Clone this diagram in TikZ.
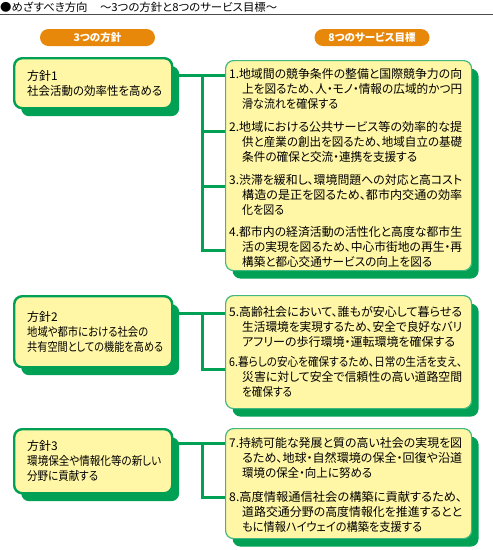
\documentclass[tikz,border=0pt]{standalone}
\usepackage{graphicx}
\usepackage{fontspec}
\setmainfont{Noto Sans CJK JP}[CharacterWidth=AlternateProportional]
\usetikzlibrary{positioning,shadows}

\definecolor{routegreen}{HTML}{00A055}
\definecolor{boxyellow}{HTML}{FFF7A6}
\definecolor{tagorange}{HTML}{E8880A}

% one line of text set to a given width
\newcommand{\fitline}[2]{\resizebox{#1}{\height}{#2}}
% a numbered goal: number, line 1, line 2, line 3, width of line 3
\newcommand{\goallines}[5]{\fitline{233pt}{#1.#2}\\\hspace*{13pt}\fitline{220pt}{#3}\\\hspace*{13pt}\fitline{#5}{#4}}

\tikzset{
  panel/.style={fill=boxyellow, rounded corners=8pt, anchor=north west,
    drop shadow={fill=routegreen, opacity=1, shadow xshift=7pt, shadow yshift=-8pt}},
  policy/.style={panel, draw=routegreen, line width=2.4pt, minimum width=158pt,
    text width=132pt, inner xsep=13pt, align=left, font=\fontsize{12}{15}\selectfont},
  goalbox/.style={panel, draw=routegreen!75, line width=1.2pt, minimum width=246pt},
  goal/.style={anchor=north west, inner sep=0pt, align=left, font=\fontsize{12}{14.7}\selectfont},
  tag/.style={fill=tagorange, text=white, rounded corners=8.5pt, minimum width=115pt,
    minimum height=17pt, inner sep=0pt, font=\fontsize{10.5}{12}\selectfont\bfseries},
  bus/.style={draw=routegreen, line width=3pt}
}

\begin{document}
\begin{tikzpicture}[x=1pt,y=-1pt]
\useasboundingbox (0,0) rectangle (493,550);

% heading
\node[anchor=west, inner sep=0pt, font=\fontsize{11}{12}\selectfont] (title) at (0,7)
  {\fitline{277pt}{●めざすべき方向\hspace{12pt}～3つの方針と8つのサービス目標～}};
\draw[gray!60!black, line width=1pt] (0,14.5) -- (493,14.5);

\node[tag] (hp) at (97.5,37.5) {3つの方針};
\node[tag] (hg) at (372,37.5) {8つのサービス目標};

% policies
\node[policy, minimum height=50pt] (p1) at (13,57)
  {方針1\\\fitline{135pt}{社会活動の効率性を高める}};
\node[policy, minimum height=71pt] (p2) at (13,295)
  {方針2\\\fitline{121pt}{地域や都市における社会の}\\\fitline{136pt}{共有空間としての機能を高める}};
\node[policy, minimum height=64pt] (p3) at (13,428)
  {方針3\\\fitline{134pt}{環境保全や情報化等の新しい}\\\fitline{71pt}{分野に貢献する}};

% goal panels
\node[goalbox, minimum height=210pt] (gb1) at (225,60) {};
\node[goalbox, minimum height=113pt] (gb2) at (225,295) {};
\node[goalbox, minimum height=110pt] (gb3) at (225,428) {};

% goals
\node[goal] (g1) at (229,68.5) {\goallines{1}{地域間の競争条件の整備と国際競争力の向}{上を図るため、人・モノ・情報の広域的かつ円}{滑な流れを確保する}{96pt}};
\node[goal] (g2) at (229,121.5) {\goallines{2}{地域における公共サービス等の効率的な提}{供と産業の創出を図るため、地域自立の基礎}{条件の確保と交流・連携を支援する}{175pt}};
\node[goal] (g3) at (229,174.5) {\goallines{3}{渋滞を緩和し、環境問題への対応と高コスト}{構造の是正を図るため、都市内交通の効率}{化を図る}{42pt}};
\node[goal] (g4) at (229,226.5) {\goallines{4}{都市内の経済活動の活性化と高度な都市生}{活の実現を図るため、中心市街地の再生・再}{構築と都心交通サービスの向上を図る}{190pt}};
\node[goal] (g5) at (229,306.5) {\goallines{5}{高齢社会において、誰もが安心して暮らせる}{生活環境を実現するため、安全で良好なバリ}{アフリーの歩行環境・運転環境を確保する}{213pt}};
\node[goal] (g6) at (229,356.5) {\goallines{6}{暮らしの安心を確保するため、日常の生活を支え、}{災害に対して安全で信頼性の高い道路空間}{を確保する}{50pt}};
\node[goal] (g7) at (229,437.5) {\goallines{7}{持続可能な発展と質の高い社会の実現を図}{るため、地球・自然環境の保全・回復や沿道}{環境の保全・向上に努める}{130pt}};
\node[goal] (g8) at (229,491.5) {\goallines{8}{高度情報通信社会の構築に貢献するため、}{道路交通分野の高度情報化を推進するとと}{もに情報ハイウェイの構築を支援する}{180pt}};

% connectors
\coordinate (j1) at (202,75);
\coordinate (j2) at (202,313);
\coordinate (j3) at (202,443);
\draw[bus] (p1.east |- j1) -- (gb1.west |- j1);
\draw[bus] (p2.east |- j2) -- (gb2.west |- j2);
\draw[bus] (p3.east |- j3) -- (gb3.west |- j3);
\draw[bus] ([yshift=-1.5pt]j1) -- (202,251.5);
\draw[bus] ([yshift=-1.5pt]j2) -- (202,370.5);
\draw[bus] ([yshift=-1.5pt]j3) -- (202,498.5);
\foreach \y in {131,186,250} {
  \draw[bus] (200.5,\y) -- (gb1.west |- 0,\y);
}
\draw[bus] (200.5,369) -- (gb2.west |- 0,369);
\draw[bus] (200.5,497) -- (gb3.west |- 0,497);
\end{tikzpicture}
\end{document}
